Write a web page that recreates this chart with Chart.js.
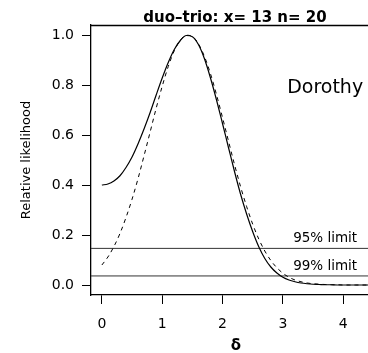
<!DOCTYPE html>
<html>
<head>
<meta charset="utf-8">
<script src="https://cdn.jsdelivr.net/npm/chart.js@4.4.1/dist/chart.umd.min.js"></script>
<style>
  html, body { margin: 0; padding: 0; background: #fff; overflow: hidden; }
</style>
</head>
<body>
<canvas id="lik" width="368" height="353"></canvas>
<script>
// delta grid and the two likelihood curves
const deltas = [0.0, 0.1, 0.2, 0.3, 0.4, 0.5, 0.6, 0.7, 0.8, 0.9,
                1.0, 1.1, 1.2, 1.3, 1.4, 1.5, 1.6, 1.7, 1.8, 1.9,
                2.0, 2.1, 2.2, 2.3, 2.4, 2.5, 2.6, 2.7, 2.8, 2.9,
                3.0, 3.1, 3.2, 3.3, 3.4, 3.5, 3.6, 3.7, 3.8, 3.9,
                4.0, 4.1, 4.2, 4.3, 4.4, 4.5, 4.6, 4.7, 4.8, 4.9, 5.0];
const profileLik = [0.400, 0.404, 0.416, 0.437, 0.470, 0.512, 0.565, 0.625, 0.690, 0.760,
                    0.828, 0.890, 0.942, 0.978, 0.998, 0.993, 0.962, 0.905, 0.828, 0.740,
                    0.645, 0.548, 0.452, 0.362, 0.283, 0.213, 0.153, 0.106, 0.072, 0.048,
                    0.031, 0.020, 0.013, 0.008, 0.005, 0.003, 0.002, 0.001, 0.001, 0.000,
                    0, 0, 0, 0, 0, 0, 0, 0, 0, 0, 0];
const normalLik = [0.080, 0.112, 0.154, 0.206, 0.270, 0.343, 0.426, 0.518, 0.612, 0.707,
                   0.795, 0.874, 0.937, 0.979, 0.999, 0.994, 0.965, 0.914, 0.845, 0.761,
                   0.669, 0.574, 0.480, 0.392, 0.313, 0.243, 0.184, 0.136, 0.098, 0.069,
                   0.047, 0.031, 0.020, 0.013, 0.008, 0.005, 0.003, 0.002, 0.001, 0.001,
                   0, 0, 0, 0, 0, 0, 0, 0, 0, 0, 0];

const xTicks = [0, 1, 2, 3, 4];
const yTicks = [0.0, 0.2, 0.4, 0.6, 0.8, 1.0];
const limits = [0.1465, 0.0362];
const limitLabels = ["95% limit", "99% limit"];

const titleText = "duo\u2013trio: x= 13 n= 20";
const testerName = "Dorothy";

Chart.defaults.font.family = "'DejaVu Sans', sans-serif";
Chart.defaults.color = "#000";

function curve(ys) {
  return deltas.map((d, i) => ({ x: d, y: ys[i] }));
}

function hline(v) {
  return [{ x: -1, y: v }, { x: 6, y: v }];
}

// box top, titles and text labels
const annotate = {
  id: "annotate",
  afterDraw(chart) {
    const ctx = chart.ctx;
    const area = chart.chartArea;
    const xs = chart.scales.x;
    const ys = chart.scales.y;
    ctx.save();
    ctx.strokeStyle = "#000";
    ctx.lineWidth = 1.3;
    ctx.beginPath();
    ctx.moveTo(area.left, area.top + 0.5);
    ctx.lineTo(area.right, area.top + 0.5);
    ctx.stroke();

    ctx.fillStyle = "#000";
    ctx.textAlign = "center";
    ctx.textBaseline = "alphabetic";
    ctx.font = "bold 15px 'DejaVu Sans'";
    ctx.fillText(titleText, 235, 22);

    ctx.font = "bold 15px 'DejaVu Sans'";
    ctx.fillText("\u03b4", 236, 350);

    ctx.font = "19px 'DejaVu Sans'";
    ctx.fillText(testerName, xs.getPixelForValue(3.7), ys.getPixelForValue(0.8) + 8);

    ctx.font = "13.5px 'DejaVu Sans'";
    limits.forEach((v, i) => {
      ctx.fillText(limitLabels[i], xs.getPixelForValue(3.7), ys.getPixelForValue(v) - 6);
    });
    ctx.restore();
  }
};

new Chart(document.getElementById("lik"), {
  type: "line",
  data: {
    datasets: [
      { data: curve(profileLik), borderColor: "#000", borderWidth: 1.2, pointRadius: 0, cubicInterpolationMode: "monotone" },
      { data: curve(normalLik), borderColor: "#000", borderWidth: 1, borderDash: [4, 4], pointRadius: 0, cubicInterpolationMode: "monotone" },
      { data: hline(limits[0]), borderColor: "#333", borderWidth: 1, pointRadius: 0 },
      { data: hline(limits[1]), borderColor: "#333", borderWidth: 1, pointRadius: 0 }
    ]
  },
  options: {
    responsive: false,
    devicePixelRatio: 1,
    animation: false,
    layout: { padding: { top: 25, right: 0, left: 0, bottom: 0 } },
    plugins: { legend: { display: false }, tooltip: { enabled: false } },
    scales: {
      x: {
        type: "linear",
        min: -0.18,
        max: 4.41,
        afterBuildTicks: s => { s.ticks = xTicks.map(v => ({ value: v })); },
        afterFit: s => { s.height = 58; },
        ticks: { font: { size: 14 }, padding: 12, maxRotation: 0, callback: v => String(v) },
        grid: { drawOnChartArea: false, drawTicks: true, tickLength: 9, color: "#000" },
        border: { display: true, color: "#000", width: 1.3 }
      },
      y: {
        type: "linear",
        min: -0.04,
        max: 1.04,
        afterBuildTicks: s => { s.ticks = yTicks.map(v => ({ value: v })); },
        afterFit: s => { s.width = 91; },
        ticks: { font: { size: 14 }, padding: 8, callback: v => v.toFixed(1) },
        grid: { drawOnChartArea: false, drawTicks: true, tickLength: 9, color: "#000" },
        border: { display: true, color: "#000", width: 1.3 },
        title: { display: true, text: "Relative likelihood", font: { size: 13 }, padding: { top: 19, bottom: 0 } }
      }
    }
  },
  plugins: [annotate]
});
</script>
</body>
</html>
